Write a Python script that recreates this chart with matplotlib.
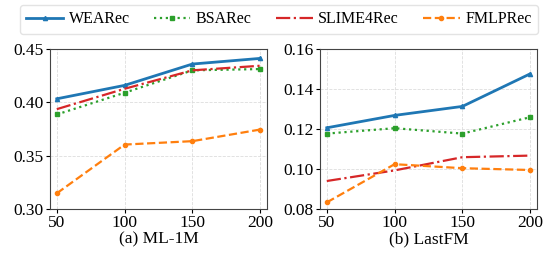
import matplotlib
matplotlib.use("Agg")
import matplotlib.pyplot as plt

plt.rcParams['font.family'] = ['Liberation Serif', 'DejaVu Serif']
plt.rcParams['mathtext.fontset'] = 'stix'

# x values (hidden dimension)
dims = [50, 100, 150, 200]
methods = ["WEARec", "BSARec", "SLIME4Rec", "FMLPRec"]

# ML-1M
ml_wearec = [0.4033, 0.4159, 0.4359, 0.4412]
ml_bsarec = [0.3886, 0.4090, 0.4300, 0.4312]
ml_slime = [0.3936, 0.4127, 0.4300, 0.4343]
ml_fmlp = [0.3147, 0.3604, 0.3636, 0.3745]

# LastFM
fm_wearec = [0.1206, 0.1268, 0.1313, 0.1476]
fm_bsarec = [0.1177, 0.1204, 0.1177, 0.1259]
fm_slime = [0.0940, 0.0993, 0.1059, 0.1067]
fm_fmlp = [0.0833, 0.1024, 0.1004, 0.0995]

styles = [
    dict(color='#1f77b4', ls='-', marker='^', lw=2.0, ms=3),
    dict(color='#2ca02c', ls=':', marker='s', lw=1.6, ms=3),
    dict(color='#d62728', ls='-.', marker=None, lw=1.6, ms=3),
    dict(color='#ff7f0e', ls='--', marker='o', lw=1.6, ms=3),
]

fig = plt.figure(figsize=(5.58, 2.61), dpi=100)
ax1 = fig.add_axes([50/558, 1 - 209/261, 217/558, 160/261])
ax2 = fig.add_axes([320/558, 1 - 209/261, 217/558, 160/261])

panels = [
    (ax1, [ml_wearec, ml_bsarec, ml_slime, ml_fmlp], (0.30, 0.45), [0.30, 0.35, 0.40, 0.45], "(a) ML-1M"),
    (ax2, [fm_wearec, fm_bsarec, fm_slime, fm_fmlp], (0.08, 0.16), [0.08, 0.10, 0.12, 0.14, 0.16], "(b) LastFM"),
]

handles = []
for ax, series, ylim, yticks, title in panels:
    hs = []
    for name, vals, st in zip(methods, series, styles):
        h, = ax.plot(dims, vals, label=name, **st)
        hs.append(h)
    handles = hs
    ax.set_ylim(*ylim)
    ax.set_yticks(yticks)
    ax.set_yticklabels([f"{t:.2f}" for t in yticks])
    ax.set_xticks(dims)
    ax.set_xlim(45, 205)
    ax.grid(True, color='#dddddd', lw=0.6, ls='--')
    ax.tick_params(labelsize=12.5, length=3, pad=1.5)
    for sp in ax.spines.values():
        sp.set_color('#444444')
        sp.set_linewidth(0.8)
    ax.set_xlabel(title, fontsize=12.5, labelpad=0)

fig.legend(handles, methods, loc='upper center', bbox_to_anchor=(0.5, 1 - 5/261), ncol=4,
           fontsize=11.5, frameon=True, handlelength=2.3, handletextpad=0.35,
           columnspacing=1.5, borderpad=0.4, borderaxespad=0, edgecolor='#dddddd')

fig.savefig("out.png", dpi=100)
